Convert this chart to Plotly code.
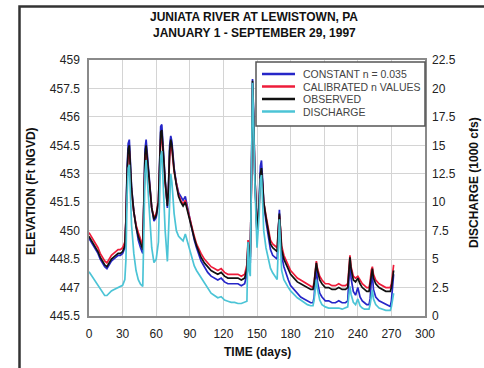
import plotly.graph_objects as go

# ---------------- data ----------------
days = [0, 2, 4, 6, 8, 10, 12, 14, 16, 18, 20, 22, 24, 26, 28, 30, 32,
        33, 34, 35, 36, 37, 38, 40, 42, 44, 46, 48,
        49, 50, 51, 52, 54, 56, 58, 60, 62,
        63, 64, 65, 66, 68, 70, 71, 72, 73, 74, 76, 78,
        80, 82, 84, 86, 88, 90, 92, 94, 96, 98, 100, 103, 106, 109, 112, 115, 118, 121, 124, 127, 130, 133, 136, 139,
        141, 142, 143, 144, 145, 146, 147, 148, 150, 152, 153, 154, 155, 156, 158, 160, 162, 164, 166, 168,
        169, 170, 171, 172, 174, 176, 178, 180, 183, 186, 189, 192, 195, 198, 200,
        201, 202, 203, 204, 206, 208, 211, 214, 217, 220, 223, 226, 229, 231,
        232, 233, 234, 236, 238, 240, 242, 244, 246, 248, 250,
        251, 252, 253, 254, 256, 259, 262, 265, 268, 269, 270, 271, 272]

observed = [449.7, 449.5, 449.3, 449.1, 448.9, 448.6, 448.4, 448.2, 448.1, 448.3, 448.5, 448.6, 448.7, 448.8, 448.8, 448.9, 449.2,
            450.5, 453.0, 454.3, 454.5, 453.5, 452.2, 451.0, 450.2, 449.7, 449.3, 449.0,
            451.5, 454.0, 454.5, 453.8, 452.3, 451.2, 450.6, 450.8, 451.5,
            453.5, 455.2, 455.3, 454.2, 452.6, 451.3, 452.3, 454.2, 454.8, 454.5, 453.2, 452.4,
            451.8, 451.5, 451.3, 451.5, 451.0, 450.5, 450.0, 449.6, 449.2, 448.9, 448.6, 448.3, 448.1, 447.9, 447.8, 447.7, 447.8, 447.6, 447.5, 447.5, 447.5, 447.5, 447.4, 447.5,
            448.0, 449.4, 448.8, 448.6, 452.5, 457.9, 456.0, 453.0, 449.9, 451.5, 453.0, 453.3, 452.5, 451.5, 450.7, 450.0, 449.3, 449.1, 449.0, 448.9,
            450.0, 450.9, 450.0, 449.0, 448.5, 448.2, 447.9, 447.7, 447.5, 447.3, 447.2, 447.1, 447.0, 446.9, 446.9,
            447.2, 447.8, 448.3, 447.9, 447.4, 447.2, 447.0, 447.0, 446.9, 446.9, 447.0, 446.9, 446.9, 447.0,
            447.8, 448.6, 448.0, 447.4, 447.3, 447.5, 447.2, 447.0, 446.9, 446.8, 446.8,
            447.2, 447.8, 448.0, 447.5, 447.2, 447.0, 446.9, 446.8, 446.8, 446.8, 447.0, 447.6, 447.9]

calibrated = [449.9, 449.7, 449.5, 449.3, 449.1, 448.8, 448.6, 448.4, 448.3, 448.5, 448.7, 448.8, 448.9, 449.0, 449.0, 449.1, 449.4,
              450.6, 452.8, 454.0, 454.2, 453.3, 452.0, 451.0, 450.3, 449.9, 449.5, 449.2,
              451.5, 453.8, 454.3, 453.6, 452.2, 451.2, 450.7, 450.9, 451.6,
              453.2, 454.8, 455.0, 454.0, 452.5, 451.4, 452.2, 453.9, 454.5, 454.3, 453.1, 452.5,
              451.9, 451.6, 451.4, 451.6, 451.1, 450.6, 450.1, 449.7, 449.3, 449.0, 448.8, 448.5, 448.3, 448.1, 448.0, 447.9, 448.0, 447.8, 447.7, 447.7, 447.7, 447.7, 447.6, 447.7,
              448.2, 449.5, 449.0, 448.8, 452.3, 457.5, 455.8, 453.0, 450.1, 451.4, 452.8, 453.0, 452.4, 451.5, 450.8, 450.2, 449.5, 449.3, 449.2, 449.1,
              450.1, 450.8, 450.1, 449.2, 448.7, 448.4, 448.1, 447.9, 447.7, 447.5, 447.4, 447.3, 447.2, 447.1, 447.0,
              447.3, 447.9, 448.4, 448.0, 447.6, 447.4, 447.2, 447.2, 447.1, 447.1, 447.2, 447.1, 447.1, 447.2,
              447.9, 448.7, 448.1, 447.6, 447.5, 447.6, 447.4, 447.2, 447.1, 447.0, 447.0,
              447.3, 447.9, 448.1, 447.7, 447.4, 447.2, 447.1, 447.0, 447.0, 447.0, 447.2, 447.8, 448.2]

constant = [449.6, 449.4, 449.2, 449.0, 448.8, 448.5, 448.3, 448.1, 448.0, 448.2, 448.4, 448.5, 448.6, 448.7, 448.7, 448.8, 449.1,
            450.6, 453.3, 454.6, 454.8, 453.8, 452.3, 451.0, 450.1, 449.5, 449.1, 448.8,
            451.7, 454.3, 454.8, 454.0, 452.4, 451.2, 450.5, 450.7, 451.5,
            453.8, 455.5, 455.6, 454.4, 452.7, 451.2, 452.4, 454.5, 455.0, 454.7, 453.3, 452.5,
            452.0, 451.8, 451.6, 451.8, 451.2, 450.6, 450.0, 449.5, 449.1, 448.8, 448.4, 448.1, 447.8, 447.6, 447.5, 447.4, 447.5, 447.3, 447.2, 447.2, 447.2, 447.2, 447.1, 447.2,
            447.7, 449.2, 448.5, 448.3, 452.8, 458.0, 456.2, 453.0, 449.8, 451.7, 453.4, 453.7, 452.7, 451.5, 450.5, 449.8, 449.0, 448.7, 448.6, 448.5,
            450.0, 451.1, 449.9, 448.7, 448.1, 447.7, 447.4, 447.1, 446.9, 446.7, 446.5, 446.4, 446.3, 446.2, 446.2,
            446.5, 447.4, 448.1, 447.3, 446.7, 446.5, 446.3, 446.3, 446.2, 446.2, 446.3, 446.2, 446.2, 446.3,
            447.2, 448.4, 447.5, 446.8, 446.6, 447.0, 446.5, 446.3, 446.2, 446.1, 446.1,
            446.4, 447.3, 447.7, 446.9, 446.5, 446.3, 446.2, 446.1, 446.0, 446.0, 446.3, 447.2, 447.7]

discharge = [3.9, 3.6, 3.3, 3.0, 2.7, 2.3, 2.0, 1.8, 1.8, 2.0, 2.2, 2.3, 2.4, 2.5, 2.6, 2.7, 3.2,
             5.0, 10.5, 13.0, 13.3, 11.0, 8.0, 5.5, 4.0, 3.2, 2.8, 2.6,
             7.0, 12.5, 13.7, 12.0, 8.5, 6.0, 4.7, 5.0, 6.5,
             10.0, 14.0, 14.5, 12.0, 7.5, 4.8, 7.5, 11.5, 12.5, 11.8, 9.0, 7.5,
             7.0, 6.8, 6.6, 7.2, 6.5, 5.8, 5.0, 4.4, 4.0, 3.7, 3.4, 2.9, 2.4, 2.0, 1.8, 1.6, 1.7, 1.4, 1.3, 1.2, 1.2, 1.1, 1.1, 1.2,
             1.3, 6.5, 4.0, 3.5, 10.0, 20.5, 17.0, 12.0, 6.0, 9.0, 12.0, 12.4, 10.0, 7.5, 6.0, 5.0, 4.2, 3.8, 3.5, 3.2,
             6.0, 8.5, 6.0, 4.0, 3.2, 2.8, 2.5, 2.2, 1.9, 1.6, 1.4, 1.2, 1.0, 0.9, 0.9,
             1.4, 2.5, 3.2, 2.4, 1.4, 1.0, 0.8, 0.7, 0.7, 0.7, 0.7, 0.6, 0.7, 0.8,
             1.8, 2.6, 1.9, 1.2, 1.0, 1.5, 0.9, 0.7, 0.6, 0.6, 0.6,
             1.0, 1.9, 2.3, 1.5, 1.0, 0.7, 0.6, 0.5, 0.5, 0.5, 0.8, 1.6, 2.0]

series_names = ["CONSTANT n = 0.035", "CALIBRATED n VALUES", "OBSERVED", "DISCHARGE"]
series_colors = ["#2626c8", "#ee1c3a", "#111111", "#4cc4d6"]

x_ticks = [0, 30, 60, 90, 120, 150, 180, 210, 240, 270, 300]
title_lines = ["JUNIATA RIVER AT LEWISTOWN, PA", "JANUARY 1 - SEPTEMBER 29, 1997"]

# ---------------- figure ----------------
fig = go.Figure()
elev_series = [constant, calibrated, observed]
for name, vals, col in zip(series_names[:3], elev_series, series_colors[:3]):
    fig.add_trace(go.Scatter(x=days, y=vals, name=name, mode="lines",
                             line=dict(color=col, width=1.7), yaxis="y"))
fig.add_trace(go.Scatter(x=days, y=discharge, name=series_names[3], mode="lines",
                         line=dict(color=series_colors[3], width=1.7), yaxis="y2"))

W, H = 484, 368
L, R, T, B = 89, 59, 60, 52
pw, ph = W - L - R, H - T - B


def px(xp):
    return (xp - L) / pw


def py(yp):
    return (H - B - yp) / ph


font = "Arial, Liberation Sans, sans-serif"

fig.update_layout(
    width=W, height=H,
    margin=dict(l=L, r=R, t=T, b=B, pad=0),
    paper_bgcolor="white", plot_bgcolor="white",
    showlegend=False,
    font=dict(family=font, size=12, color="#222"),
    xaxis=dict(range=[0, 300], tickvals=x_ticks, showgrid=True, gridcolor="#d4d4d4",
               gridwidth=1, zeroline=False, showline=True, linecolor="#8a8a8a",
               linewidth=1.5, mirror=True, ticks="", ticklabelstandoff=6,
               tickfont=dict(size=12, color="#222"), automargin=False),
    yaxis=dict(range=[445.5, 459], dtick=1.5, tick0=445.5, showgrid=True,
               gridcolor="#d4d4d4", gridwidth=1, zeroline=False, showline=True,
               linecolor="#8a8a8a", linewidth=1.5, mirror=True, ticks="",
               ticklabelstandoff=5, tickfont=dict(size=12, color="#222"), automargin=False),
    yaxis2=dict(range=[0, 22.5], dtick=2.5, tick0=0, overlaying="y", side="right",
                showgrid=False, zeroline=False, showline=False, ticks="",
                ticklabelstandoff=6, tickfont=dict(size=12, color="#222"), automargin=False),
)

shapes = []
# outer dark frame
shapes.append(dict(type="rect", xref="paper", yref="paper",
                   x0=px(19.5), x1=px(520), y0=py(420), y1=py(6.5),
                   line=dict(color="#333", width=2.5), fillcolor="rgba(0,0,0,0)", layer="above"))
# legend box
shapes.append(dict(type="rect", xref="paper", yref="paper",
                   x0=px(256), x1=px(425), y0=py(126), y1=py(62),
                   line=dict(color="#555", width=1.5), fillcolor="white", layer="above"))
annotations = []
leg_rows = [74, 86.5, 99, 111.5]
for name, col, yr in zip(series_names, series_colors, leg_rows):
    shapes.append(dict(type="line", xref="paper", yref="paper",
                       x0=px(262), x1=px(295), y0=py(yr), y1=py(yr),
                       line=dict(color=col, width=2.5), layer="above"))
    annotations.append(dict(x=px(301), y=py(yr), xref="paper", yref="paper",
                            text=name, showarrow=False, xanchor="left", yanchor="middle",
                            font=dict(size=10.5, color="#444", family=font)))

# titles
for txt, yy in zip(title_lines, [17, 33]):
    annotations.append(dict(x=px(254), y=py(yy), xref="paper", yref="paper", text="<b>%s</b>" % txt,
                            showarrow=False, xanchor="center", yanchor="middle",
                            font=dict(size=12, color="#111", family=font)))
annotations.append(dict(x=px(257), y=py(352), xref="paper", yref="paper", text="<b>TIME (days)</b>",
                        showarrow=False, xanchor="center", yanchor="middle",
                        font=dict(size=12, color="#111", family=font)))
annotations.append(dict(x=px(31), y=py(191), xref="paper", yref="paper", text="<b>ELEVATION (Ft NGVD)</b>",
                        showarrow=False, textangle=-90, xanchor="center", yanchor="middle",
                        font=dict(size=12, color="#111", family=font)))
annotations.append(dict(x=px(474), y=py(183), xref="paper", yref="paper", text="<b>DISCHARGE (1000 cfs)</b>",
                        showarrow=False, textangle=-90, xanchor="center", yanchor="middle",
                        font=dict(size=12, color="#111", family=font)))

fig.update_layout(shapes=shapes, annotations=annotations)
fig.write_html("out.html", config={"displayModeBar": False},
               post_script="document.body.style.margin='0';document.body.style.padding='0';"
                           "document.documentElement.style.overflow='hidden';")
